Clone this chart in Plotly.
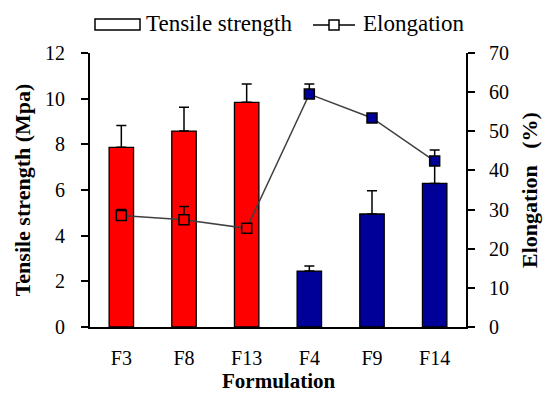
import plotly.graph_objects as go

categories = ["F3", "F8", "F13", "F4", "F9", "F14"]
tensile = [7.87, 8.58, 9.84, 2.45, 4.95, 6.29]
tensile_err = [0.96, 1.04, 0.80, 0.22, 1.02, 0.80]
elongation = [28.5, 27.4, 25.2, 59.5, 53.4, 42.4]
elong_err = [1.5, 3.4, 0.0, 2.6, 0.8, 2.8]
bar_colors = ["#FF0000", "#FF0000", "#FF0000", "#000099", "#000099", "#000099"]
legend_names = ["Tensile strength", "Elongation"]
x_title = "Formulation"

FONT = "Liberation Serif, Times New Roman, serif"

# plot-area pixel geometry helpers (for the hand-drawn legend above the plot)
L, R, T, B, W, H = 90, 78, 53, 67, 544, 394
PW, PH = W - L - R, H - T - B
def px(x):
    return (x - L) / PW
def py(y):
    return (H - B - y) / PH

fig = go.Figure()

fig.add_trace(go.Bar(
    x=categories, y=tensile, width=0.39,
    marker=dict(color=bar_colors, line=dict(color="black", width=1.3)),
    error_y=dict(type="data", array=tensile_err, arrayminus=[0]*6, symmetric=False,
                 color="black", thickness=1.5, width=5),
    showlegend=False,
))

fig.add_trace(go.Scatter(
    x=categories, y=elongation, yaxis="y2", mode="lines+markers",
    line=dict(color="#404040", width=1.5),
    marker=dict(symbol="square", size=10, color=bar_colors, line=dict(color="black", width=1.5)),
    error_y=dict(type="data", array=elong_err, arrayminus=[0]*6, symmetric=False,
                 color="black", thickness=1.5, width=5),
    showlegend=False,
))

shapes = [
    dict(type="rect", xref="paper", yref="paper", x0=px(95), x1=px(140), y0=py(30), y1=py(19),
         line=dict(color="black", width=1.5), fillcolor="white"),
    dict(type="line", xref="paper", yref="paper", x0=px(313), x1=px(355), y0=py(25), y1=py(25),
         line=dict(color="black", width=1.5)),
    dict(type="rect", xref="paper", yref="paper", x0=px(329), x1=px(339), y0=py(30), y1=py(20),
         line=dict(color="black", width=1.5), fillcolor="white"),
]
annotations = [
    dict(text=legend_names[0], xref="paper", yref="paper", x=px(144), y=py(24),
         xanchor="left", yanchor="middle", showarrow=False, font=dict(size=23)),
    dict(text=legend_names[1], xref="paper", yref="paper", x=px(361), y=py(24),
         xanchor="left", yanchor="middle", showarrow=False, font=dict(size=23)),
    dict(text="<b>" + x_title + "</b>", xref="paper", yref="paper", x=0.5, y=py(381),
         xanchor="center", yanchor="middle", showarrow=False, font=dict(size=21), borderpad=0),
]

fig.update_layout(
    width=W, height=H,
    margin=dict(l=L, r=R, t=T, b=B),
    paper_bgcolor="white", plot_bgcolor="white",
    showlegend=False,
    shapes=shapes, annotations=annotations,
    font=dict(family=FONT, size=20, color="black"),
    xaxis=dict(range=[-0.5, 5.5], showline=True, linecolor="black", linewidth=2,
               ticks="", showgrid=False, tickfont=dict(size=20), ticklabelstandoff=12,
               automargin=False),
    yaxis=dict(range=[0, 12], dtick=2, showline=True, linecolor="black", linewidth=2,
               ticks="outside", ticklen=7, tickwidth=2, tickcolor="black", showgrid=False,
               zeroline=False, tickfont=dict(size=20), ticklabelstandoff=12, automargin=False,
               title=dict(text="<b>Tensile strength (Mpa)</b>", font=dict(size=22), standoff=8)),
    yaxis2=dict(range=[0, 70], dtick=10, overlaying="y", side="right", showline=True,
                linecolor="black", linewidth=2, ticks="outside", ticklen=7, tickwidth=2,
                tickcolor="black", showgrid=False, zeroline=False, tickfont=dict(size=20),
                ticklabelstandoff=10, automargin=False,
                title=dict(text="<b>Elongation&nbsp;&nbsp;&nbsp;(%)</b>", font=dict(size=22), standoff=14)),
)

fig.write_html("out.html")
